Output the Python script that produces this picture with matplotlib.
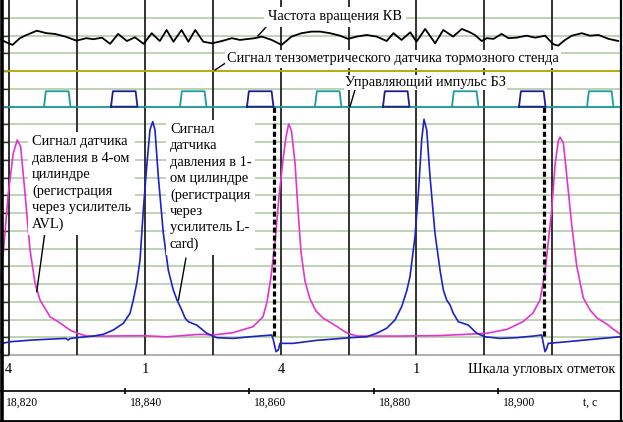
import matplotlib
matplotlib.use('Agg')
import matplotlib.pyplot as plt

plt.rcParams['font.family'] = ['Liberation Serif', 'DejaVu Serif']

# ---------------- data (time in ms after 18.820 s, level in grid divisions) ----
angle_marks = [1.3, 12.3, 23.2, 34.2, 45.1, 56.0, 66.9, 77.8, 88.7]
angle_label_marks = [1.3, 23.2, 45.1, 66.9]
angle_labels = ['4', '1', '4', '1']
time_ticks = [0, 20, 40, 60, 80]
time_tick_labels = ['18,820', '18,840', '18,860', '18,880', '18,900']
grid_levels = list(range(-1, 19))

rpm_t = [-0.1, 0.7, 1.9, 3.1, 3.9, 5.8, 7.4, 8.7, 10.4, 12.2, 13.8, 14.9, 16.3, 17.6,
         18.9, 20.3, 21.6, 23.0, 24.3, 25.6, 26.7, 27.8, 29.1, 30.2, 31.3, 32.6, 34.0,
         35.6, 37.2, 38.5, 40.9, 42.0, 43.6, 45.2, 46.8, 48.4, 50.0, 51.4, 53.0, 54.6,
         55.9, 57.3, 58.9, 60.5, 62.1, 63.2, 64.5, 65.9, 66.9, 68.3, 69.9, 71.2, 72.8,
         74.2, 75.5, 76.3, 77.4, 78.2, 79.3, 80.6, 81.7, 83.0, 84.6, 86.0, 87.6, 88.9,
         89.7, 90.8, 91.9, 93.5, 94.8, 96.2, 97.8, 99.4]
rpm_v = [16.82, 16.66, 16.48, 16.86, 17.00, 17.28, 17.14, 17.10, 16.95, 16.72, 16.86,
         16.80, 16.89, 16.54, 17.10, 16.70, 16.91, 16.54, 17.14, 16.70, 17.32, 16.66,
         17.32, 16.66, 17.32, 16.66, 16.57, 16.70, 16.86, 16.76, 16.86, 16.95, 16.76,
         16.48, 16.95, 17.14, 17.23, 17.23, 17.14, 17.00, 16.82, 16.95, 17.04, 16.95,
         16.70, 17.14, 16.76, 17.19, 16.66, 17.38, 16.57, 17.32, 16.95, 17.38, 17.19,
         17.04, 16.70, 16.86, 16.82, 17.10, 16.86, 16.89, 17.00, 16.89, 17.00, 16.52,
         16.44, 16.76, 17.00, 17.14, 17.00, 17.04, 16.82, 16.70]

strain_level = 15.0

pulse_base = 13.0
pulse_top = 13.87
pulse_width = 4.26
teal_pulse_starts = [6.97, 28.85, 50.57, 72.61, 94.34]
blue_pulse_starts = [17.75, 39.63, 61.51, 83.4]
dashed_marks = [43.9, 87.4]

p4_t = [0.0, 0.42, 1.23, 2.03, 2.67, 3.22, 3.91, 4.72, 5.52, 6.33, 7.94, 9.54, 11.15,
        12.23, 13.84, 15.98, 22.90, 26.71, 32.07, 34.16, 37.38, 40.60, 42.21, 42.85,
        43.49, 44.14, 44.78, 45.42, 45.91, 46.34, 46.79, 47.36, 47.84, 48.32, 48.96,
        49.77, 50.73, 51.86, 53.95, 55.72, 57.33, 64.25, 70.69, 75.03, 78.25, 81.47,
        84.04, 85.65, 86.78, 87.58, 88.11, 88.66, 89.19, 89.72, 90.0, 90.53, 91.07,
        91.88, 92.68, 93.74, 94.82, 95.95, 97.51, 98.52, 99.65]
p4_v = [3.24, 4.76, 8.14, 10.39, 11.13, 10.73, 8.14, 4.93, 3.07, 2.11, 1.17, 0.82, 0.42,
        0.25, 0.08, 0.08, 0.10, 0.04, 0.18, 0.14, 0.27, 0.61, 1.17, 2.00, 3.41, 5.38,
        7.92, 10.00, 11.30, 12.03, 11.63, 9.83, 7.18, 4.82, 3.18, 2.17, 1.49, 1.10, 0.65,
        0.25, 0.08, 0.08, 0.11, 0.18, 0.24, 0.46, 0.89, 1.38, 2.11, 3.69, 5.38, 7.18,
        9.72, 11.07, 11.28, 10.96, 9.15, 6.34, 4.03, 2.23, 1.55, 1.10, 0.76, 0.48, 0.20]

p1_t = [0.05, 0.29, 0.53, 1.50, 5.20, 10.51, 10.83, 11.15, 12.23, 14.90, 16.51, 18.12,
        19.73, 20.81, 21.34, 21.89, 22.42, 22.95, 23.49, 24.02, 24.46, 24.83, 25.36,
        26.17, 26.97, 27.77, 28.37, 29.13, 29.66, 30.19, 31.54, 33.15, 34.76, 37.43,
        40.12, 43.61, 43.87, 44.30, 44.67, 44.94, 47.08, 50.85, 53.52, 56.21, 58.89,
        60.50, 62.11, 63.45, 64.52, 65.33, 65.86, 66.66, 67.20, 67.74, 68.11, 68.55,
        69.08, 69.88, 70.69, 71.22, 71.76, 72.30, 72.83, 73.63, 75.24, 76.59, 77.93,
        80.34, 83.03, 85.70, 87.05, 87.31, 87.58, 87.85, 88.11, 91.07, 95.35, 99.65]
p1_v = [-0.87, -0.42, -0.31, -0.24, -0.14, -0.05, -0.14, -0.06, -0.01, 0.08, 0.18, 0.42,
        0.80, 1.36, 2.11, 3.05, 4.37, 7.18, 9.62, 11.69, 12.16, 11.69, 9.06, 5.87, 3.80,
        2.68, 2.11, 1.55, 1.10, 0.89, 0.70, 0.24, -0.01, -0.05, 0.04, 0.14, -0.14, -0.80,
        -0.70, -0.33, -0.33, -0.16, -0.09, -0.01, 0.04, 0.24, 0.52, 0.99, 1.74, 2.62,
        3.43, 5.68, 8.12, 11.13, 12.29, 11.69, 9.06, 5.87, 3.80, 2.68, 2.11, 1.83, 1.36,
        0.89, 0.70, 0.24, 0.04, -0.05, -0.01, 0.08, 0.14, -0.33, -0.80, -0.62, -0.33,
        -0.24, -0.10, 0.04]

# ---------------- figure ----------------
fig = plt.figure(figsize=(6.23, 4.22), dpi=100)
ax = fig.add_axes([0, 0, 1, 1])
ax.set_xlim(-0.11, 100.13)
ax.set_ylim(-4.76, 19.01)
ax.axis('off')

W, H = 623.0, 422.0
ytr = ax.get_yaxis_transform()   # x: axes fraction, y: data

# grid
for lv in grid_levels:
    col = '#a9a9a9' if lv == -1 else '#b7d0ab'
    ax.plot([3 / W, 621 / W], [lv, lv], transform=ytr, color=col, lw=1.3, zorder=1)
    ax.plot([3 / W, 8 / W], [lv, lv], transform=ytr, color='#333333', lw=1.0, zorder=2)

# angle marks
ax.vlines(angle_marks, -1, 19.01, color='#222222', lw=1.3, zorder=2)

# frame
ax.plot([1.5 / W, 1.5 / W], [0, 1], transform=ax.transAxes, color='black', lw=2.6, zorder=6)
ax.plot([621 / W, 621 / W], [0, 1], transform=ax.transAxes, color='black', lw=1.6, zorder=6)
ax.plot([0, 621 / W], [1.5 / H, 1.5 / H], transform=ax.transAxes, color='black', lw=2.0, zorder=6)

# strain gauge
ax.plot([3 / W, 621 / W], [strain_level, strain_level], transform=ytr,
        color='#b9a80c', lw=1.3, zorder=3)

# rpm
ax.plot(rpm_t, rpm_v, color='black', lw=1.3, zorder=3,
        solid_joinstyle='round', solid_capstyle='round')

# control pulses
ax.plot([3 / W, 621 / W], [pulse_base, pulse_base], transform=ytr,
        color='#1f9a9e', lw=1.3, zorder=3)
for s in teal_pulse_starts:
    ax.plot([s, s + 0.3, s + pulse_width - 0.3, s + pulse_width],
            [pulse_base, pulse_top, pulse_top, pulse_base],
            color='#1f9a9e', lw=1.3, zorder=3)
for s in blue_pulse_starts:
    ax.plot([s, s + 0.3, s + pulse_width - 0.3, s + pulse_width, s],
            [pulse_base, pulse_top, pulse_top, pulse_base, pulse_base],
            color='#1d1d8f', lw=1.3, zorder=3)

# dashed marks
ax.vlines(dashed_marks, 0.1, pulse_base, color='black', lw=2.3,
          linestyles=[(0, (1.6, 0.9))], zorder=4)

# pressure curves
ax.plot(p4_t, p4_v, color='#e433d2', lw=1.2, zorder=3, solid_joinstyle='round')
ax.plot(p1_t, p1_v, color='#1c22c4', lw=1.2, zorder=3, solid_joinstyle='round')

# leaders
lk = dict(color='black', lw=1.0, zorder=4)
ax.plot([41.4, 43.3], [16.99, 17.72], **lk)
ax.plot([34.5, 36.9], [15.07, 15.63], **lk)
ax.plot([56.2, 57.0], [13.0, 13.94], **lk)
ax.plot([7.13, 5.80], [5.96, 2.58], **lk)
ax.plot([29.8, 28.6], [4.46, 2.11], **lk)

fs = 10.4
box = dict(boxstyle='square,pad=0.25', facecolor='white', edgecolor='none')
ax.text(43.0, 18.06, 'Частота вращения КВ', fontsize=fs, ha='left', va='center',
        bbox=box, zorder=5)
ax.text(36.4, 15.69, 'Сигнал тензометрического датчика тормозного стенда', fontsize=fs,
        ha='left', va='center', bbox=dict(boxstyle='square,pad=0.15', facecolor='white',
                                          edgecolor='none'), zorder=5)
ax.text(55.4, 14.36, 'Управляющий импульс БЗ', fontsize=fs, ha='left', va='center',
        bbox=dict(boxstyle='square,pad=0.1', facecolor='white', edgecolor='none'), zorder=5)
ax.text(5.04, 11.38, 'Сигнал датчика\nдавления в 4-ом\nцилиндре\n(регистрация\nчерез усилитель\nAVL)',
        fontsize=fs, ha='left', va='top', linespacing=1.33, bbox=box, zorder=5)
ax.text(27.24, 12.08, 'Сигнал\nдатчика\nдавления в 1-\nом цилиндре\n(регистрация\nчерез\nусилитель L-\ncard)',
        fontsize=fs, ha='left', va='top', linespacing=1.33, bbox=box, zorder=5)

# angle scale labels
for t, lab in zip(angle_label_marks, angle_labels):
    ax.text(t, -1.83, lab, fontsize=fs, ha='center', va='center')
ax.text(75.2, -1.83, 'Шкала угловых отметок', fontsize=fs, ha='left', va='center')

# time axis
ax.plot([0, 621 / W], [-3.02, -3.02], transform=ytr, color='black', lw=1.2)
ax.vlines(time_ticks[1:], -3.2, -2.85, color='black', lw=1.2)
for t, lab in zip(time_ticks, time_tick_labels):
    ax.text(t + 3.4, -3.69, lab, fontsize=8.4, ha='center', va='center')
ax.text(94.8, -3.69, 't, c', fontsize=8.4, ha='center', va='center')

fig.savefig('out.png', dpi=100)
